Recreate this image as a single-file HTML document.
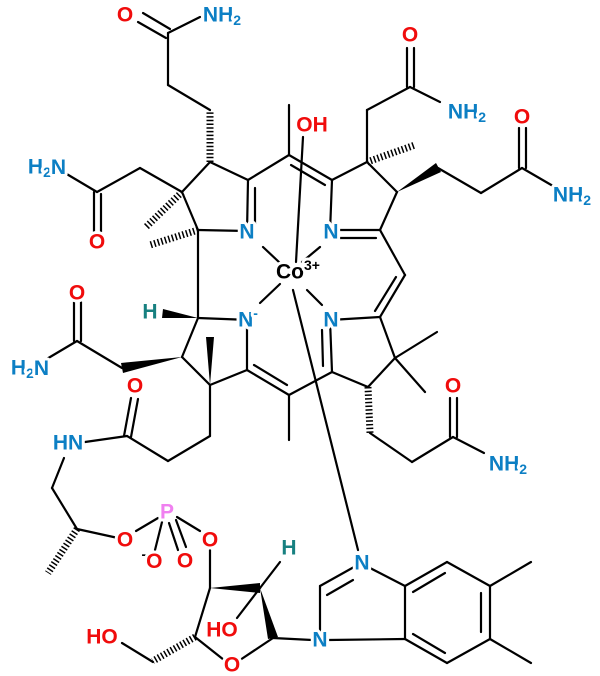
<!DOCTYPE html>
<html><head><meta charset="utf-8"><style>
html,body{margin:0;padding:0;background:#fff;width:600px;height:676px;overflow:hidden}
svg{display:block}
text{font-family:"Liberation Sans",sans-serif;font-size:21px;font-weight:bold;text-anchor:middle;dominant-baseline:central;paint-order:stroke;stroke:#fff;stroke-width:6px;stroke-linejoin:round}
.O{fill:#f00c0c}.N{fill:#0c7fc4}.H{fill:#178080}.P{fill:#f080f0}.K{fill:#000}
.s{font-size:14px}
</style></head><body>
<svg width="600" height="676" viewBox="0 0 600 676">
<g stroke="#000" stroke-width="2.2" fill="none" stroke-linecap="round">
<line x1="138" y1="22" x2="166" y2="38"/><line x1="143" y1="13" x2="170" y2="29"/>
<line x1="168" y1="33" x2="200" y2="17"/>
<line x1="168" y1="33" x2="168" y2="85"/><line x1="168" y1="85" x2="210" y2="110"/>
<line x1="210" y1="162" x2="248" y2="180"/>
<line x1="248" y1="180" x2="247" y2="232"/><line x1="255" y1="188" x2="255" y2="224"/>
<line x1="198" y1="230" x2="247" y2="231"/>
<line x1="198" y1="230" x2="182" y2="192"/><line x1="182" y1="192" x2="210" y2="162"/>
<line x1="182" y1="192" x2="140" y2="168"/><line x1="140" y1="168" x2="97" y2="192"/>
<line x1="94" y1="192" x2="94" y2="232"/><line x1="101" y1="194" x2="101" y2="232"/>
<line x1="97" y1="192" x2="65" y2="173"/>
<line x1="248" y1="180" x2="289" y2="155"/><line x1="289" y1="155" x2="289" y2="105"/>
<line x1="289" y1="155" x2="332" y2="180"/><line x1="291" y1="165" x2="325" y2="185"/>
<line x1="198" y1="230" x2="198" y2="318"/>
<line x1="198" y1="318" x2="250" y2="320"/>
<line x1="332" y1="180" x2="367" y2="162"/><line x1="367" y1="162" x2="397" y2="192"/>
<line x1="397" y1="192" x2="380" y2="230"/>
<line x1="332" y1="180" x2="330" y2="232"/>
<line x1="330" y1="230" x2="380" y2="230"/><line x1="338" y1="238" x2="376" y2="238"/>
<line x1="367" y1="162" x2="367" y2="110"/><line x1="367" y1="110" x2="410" y2="87"/>
<line x1="407" y1="87" x2="407" y2="48"/><line x1="414" y1="87" x2="414" y2="48"/>
<line x1="410" y1="87" x2="440" y2="102"/>
<line x1="438" y1="168" x2="481" y2="193"/><line x1="481" y1="193" x2="522" y2="168"/>
<line x1="519" y1="168" x2="519" y2="128"/><line x1="526" y1="168" x2="526" y2="128"/>
<line x1="522" y1="168" x2="553" y2="186"/>
<line x1="380" y1="230" x2="405" y2="275"/>
<line x1="405" y1="275" x2="380" y2="317"/><line x1="396" y1="277" x2="375" y2="311"/>
<line x1="380" y1="317" x2="330" y2="320"/><line x1="380" y1="317" x2="395" y2="358"/>
<line x1="330" y1="320" x2="332" y2="372"/><line x1="322" y1="330" x2="323" y2="366"/>
<line x1="332" y1="372" x2="368" y2="387"/><line x1="368" y1="387" x2="395" y2="358"/>
<line x1="395" y1="358" x2="437" y2="332"/><line x1="395" y1="358" x2="425" y2="392"/>
<line x1="370" y1="433" x2="412" y2="462"/><line x1="412" y1="462" x2="453" y2="437"/>
<line x1="450" y1="437" x2="450" y2="398"/><line x1="457" y1="437" x2="457" y2="398"/>
<line x1="453" y1="437" x2="484" y2="453"/>
<line x1="332" y1="372" x2="289" y2="395"/><line x1="289" y1="395" x2="289" y2="440"/>
<line x1="289" y1="395" x2="247" y2="370"/><line x1="287" y1="385" x2="254" y2="365"/>
<line x1="247" y1="320" x2="247" y2="370"/><line x1="247" y1="370" x2="210" y2="385"/>
<line x1="210" y1="385" x2="182" y2="357"/><line x1="182" y1="357" x2="198" y2="318"/>
<line x1="122" y1="368" x2="77" y2="341"/>
<line x1="74" y1="341" x2="74" y2="302"/><line x1="81" y1="341" x2="81" y2="302"/>
<line x1="77" y1="341" x2="45" y2="360"/>
<line x1="210" y1="385" x2="210" y2="436"/><line x1="210" y1="436" x2="168" y2="461"/>
<line x1="168" y1="461" x2="127" y2="436"/>
<line x1="124" y1="436" x2="131" y2="398"/><line x1="131" y1="437" x2="138" y2="399"/>
<line x1="127" y1="436" x2="85" y2="442"/>
<line x1="64" y1="458" x2="52" y2="488"/><line x1="52" y1="488" x2="77" y2="529"/>
<line x1="77" y1="529" x2="118" y2="538"/>
<line x1="136" y1="531" x2="158" y2="518"/>
<line x1="162" y1="522" x2="155" y2="550"/>
<line x1="169" y1="523" x2="178" y2="550"/><line x1="176" y1="520" x2="186" y2="547"/>
<line x1="177" y1="517" x2="200" y2="531"/>
<line x1="210" y1="550" x2="210" y2="588"/>
<line x1="260" y1="588" x2="280" y2="562"/>
<line x1="260" y1="588" x2="237" y2="618"/>
<line x1="210" y1="588" x2="195" y2="637"/><line x1="195" y1="637" x2="224" y2="660"/>
<line x1="240" y1="660" x2="273" y2="638"/>
<line x1="153" y1="662" x2="122" y2="643"/>
<line x1="273" y1="638" x2="312" y2="640"/>
<line x1="320" y1="586" x2="354" y2="567"/><line x1="327" y1="595" x2="353" y2="580"/>
<line x1="320" y1="586" x2="320" y2="632"/>
<line x1="370" y1="568" x2="405" y2="586"/><line x1="328" y1="640" x2="405" y2="639"/>
<line x1="405" y1="586" x2="447" y2="562"/><line x1="413" y1="592" x2="445" y2="573"/>
<line x1="447" y1="562" x2="490" y2="586"/><line x1="490" y1="586" x2="490" y2="639"/>
<line x1="481" y1="593" x2="481" y2="632"/>
<line x1="490" y1="639" x2="447" y2="663"/><line x1="447" y1="663" x2="405" y2="639"/>
<line x1="445" y1="653" x2="413" y2="634"/>
<line x1="405" y1="586" x2="405" y2="639"/>
<line x1="490" y1="586" x2="531" y2="562"/><line x1="490" y1="639" x2="531" y2="663"/>
<line x1="296" y1="262" x2="303" y2="137"/>
<line x1="293" y1="290" x2="358" y2="550"/>
<line x1="263" y1="247" x2="280" y2="263"/>
<line x1="320" y1="247" x2="302" y2="262"/>
<line x1="280" y1="284" x2="260" y2="303"/>
<line x1="307" y1="290" x2="322" y2="305"/>
</g>
<g stroke="#000" stroke-width="7" stroke-dasharray="1.5 2.2" fill="none">
<line x1="210" y1="162" x2="210" y2="112"/>
<line x1="182" y1="192" x2="145" y2="228"/>
<line x1="198" y1="230" x2="150" y2="245"/>
<line x1="367" y1="162" x2="415" y2="145"/>
<line x1="368" y1="387" x2="370" y2="433"/>
<line x1="77" y1="529" x2="48" y2="573"/>
<line x1="195" y1="637" x2="153" y2="661"/>
</g>
<g fill="#000">
<polygon points="198,318 163,309 162,318"/>
<polygon points="397,192 436,163 441,172"/>
<polygon points="210,385 206,337 214,337"/>
<polygon points="182,357 121,363 123,373"/>
<polygon points="210,588 260,583 260,593"/>
<polygon points="260,588 268,639 278,637"/>
</g>
<text x="125" y="15" class="O">O</text>
<text x="222" y="15" class="N">NH<tspan class="s" dy="5">2</tspan></text>
<text x="47" y="167" class="N">H<tspan class="s" dy="5">2</tspan><tspan dy="-5">N</tspan></text>
<text x="97" y="242" class="O">O</text>
<text x="247" y="232" class="N">N</text>
<text x="312" y="125" class="O">OH</text>
<text x="410" y="35" class="O">O</text>
<text x="467" y="112" class="N">NH<tspan class="s" dy="5">2</tspan></text>
<text x="522" y="117" class="O">O</text>
<text x="572" y="195" class="N">NH<tspan class="s" dy="5">2</tspan></text>
<text x="331" y="232" class="N">N</text>
<text x="298" y="272" class="K">Co<tspan class="s" dy="-7">3+</tspan></text>
<text x="248" y="320" class="N">N<tspan class="s" dy="-7">-</tspan></text>
<text x="331" y="320" class="N">N</text>
<text x="150" y="312" class="H">H</text>
<text x="77" y="293" class="O">O</text>
<text x="30" y="368" class="N">H<tspan class="s" dy="5">2</tspan><tspan dy="-5">N</tspan></text>
<text x="135" y="386" class="O">O</text>
<text x="453" y="386" class="O">O</text>
<text x="508" y="464" class="N">NH<tspan class="s" dy="5">2</tspan></text>
<text x="68" y="443" class="N">HN</text>
<text x="167" y="512" class="P">P</text>
<text x="125" y="540" class="O">O</text>
<text x="152" y="561" class="O"><tspan class="s" dy="-7" fill="#000">-</tspan><tspan dy="7">O</tspan></text>
<text x="185" y="561" class="O">O</text>
<text x="210" y="540" class="O">O</text>
<text x="289" y="548" class="H">H</text>
<text x="222" y="630" class="O">HO</text>
<text x="232" y="665" class="O">O</text>
<text x="102" y="637" class="O">HO</text>
<text x="362" y="563" class="N">N</text>
<text x="320" y="640" class="N">N</text>
</svg>
</body></html>
